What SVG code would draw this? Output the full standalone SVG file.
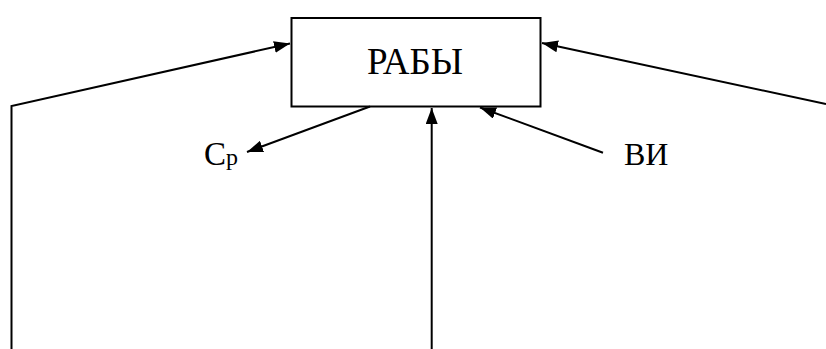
<svg xmlns="http://www.w3.org/2000/svg" width="826" height="349" viewBox="0 0 826 349">
<style>
.t{font-family:"Liberation Serif","Times New Roman",serif;fill:#000}
.c{stroke:#000;stroke-width:2;fill:none}
</style>
<defs>
<marker id="ah" viewBox="0 0 16 12" refX="16" refY="6" markerWidth="16" markerHeight="12" markerUnits="userSpaceOnUse" orient="auto">
<path d="M0,0 L16,6 L0,12 z" fill="#000"/>
</marker>
</defs>
<rect width="826" height="349" fill="#fff"/>
<g id="node-raby">
<rect x="291.5" y="18" width="249" height="88.5" fill="#fff" stroke="#000" stroke-width="2"/>
<text class="t" x="415" y="74" font-size="37" text-anchor="middle">РАБЫ</text>
</g>
<g id="node-sr">
<text class="t" x="204" y="165" font-size="33">С<tspan font-size="24">р</tspan></text>
</g>
<g id="node-vi">
<text class="t" x="624" y="165" font-size="32">ВИ</text>
</g>
<g id="connectors">
<polyline class="c" points="11.5,349 11.5,106 290,43.5" marker-end="url(#ah)"/>
<polyline class="c" points="826,104 542,43" marker-end="url(#ah)"/>
<line class="c" x1="431.7" y1="349" x2="431.7" y2="108" marker-end="url(#ah)"/>
<line class="c" x1="370" y1="106.5" x2="247" y2="152" marker-end="url(#ah)"/>
<line class="c" x1="603" y1="152.7" x2="480" y2="107.5" marker-end="url(#ah)"/>
</g>
</svg>
